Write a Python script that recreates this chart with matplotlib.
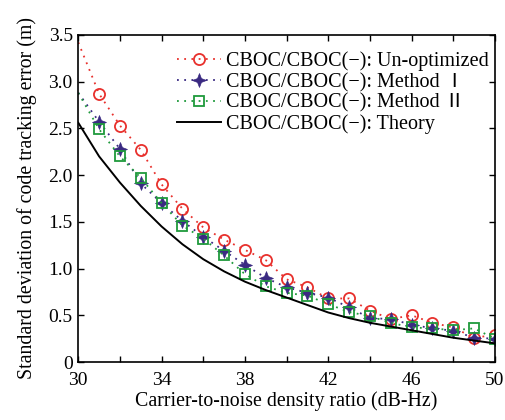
import matplotlib
matplotlib.use("Agg")
import matplotlib.pyplot as plt
from matplotlib.path import Path
import numpy as np

plt.rcParams['font.family'] = ['Liberation Serif', 'Noto Sans CJK SC', 'DejaVu Serif']
plt.rcParams['mathtext.fontset'] = 'stix'

# C/N0 grid (dB-Hz)
cn0 = [30, 31, 32, 33, 34, 35, 36, 37, 38, 39, 40,
       41, 42, 43, 44, 45, 46, 47, 48, 49, 50]

# Standard deviation of code tracking error (m)
unoptimized = [3.42, 2.87, 2.53, 2.27, 1.90, 1.64, 1.44, 1.31, 1.20, 1.09, 0.885,
               0.80, 0.68, 0.68, 0.55, 0.46, 0.50, 0.42, 0.37, 0.26, 0.29]
method1 = [2.88, 2.57, 2.28, 1.91, 1.70, 1.51, 1.34, 1.19, 1.04, 0.90, 0.80,
           0.74, 0.69, 0.585, 0.47, 0.46, 0.40, 0.36, 0.335, 0.26, 0.25]
method2 = [2.88, 2.49, 2.20, 1.97, 1.70, 1.46, 1.32, 1.14, 0.94, 0.81, 0.74,
           0.71, 0.62, 0.535, 0.49, 0.42, 0.37, 0.36, 0.34, 0.36, 0.25]
theory = [2.56, 2.20, 1.92, 1.67, 1.45, 1.26, 1.10, 0.97, 0.86, 0.77, 0.69,
          0.61, 0.53, 0.47, 0.42, 0.38, 0.34, 0.30, 0.26, 0.23, 0.20]

labels = ['CBOC/CBOC(\u2212): Un-optimized',
          'CBOC/CBOC(\u2212): Method \u2160',
          'CBOC/CBOC(\u2212): Method \u2161',
          'CBOC/CBOC(\u2212): Theory']

# four-pointed star marker
a, b = 1.0, 0.28
star = Path([(0, a), (b, b), (a, 0), (b, -b), (0, -a), (-b, -b), (-a, 0), (-b, b), (0, a)],
            [Path.MOVETO] + [Path.LINETO] * 7 + [Path.CLOSEPOLY])

red = '#e8302c'
purple = '#3a2a82'
green = '#1f9a3c'
dots = (0, (1, 3))

fig = plt.figure(figsize=(5.05, 4.2), dpi=100)
ax = fig.add_axes([0.155, 0.138, 0.825, 0.779])

ax.plot(cn0, unoptimized, color=red, linestyle=dots, linewidth=1.3,
        marker='o', markersize=8, markerfacecolor='none', markeredgewidth=1.3,
        markevery=slice(1, None), label=labels[0])
ax.plot(cn0, method1, color=purple, linestyle=dots, linewidth=1.3,
        marker=star, markersize=10, markerfacecolor=purple, markeredgewidth=0.5,
        markevery=slice(1, None), label=labels[1])
ax.plot(cn0, method2, color=green, linestyle=dots, linewidth=1.3,
        marker='s', markersize=7.5, markerfacecolor='none', markeredgewidth=1.3,
        markevery=slice(1, None), label=labels[2])
ax.plot(cn0, theory, color='black', linestyle='-', linewidth=1.4, label=labels[3])

ax.set_xlim(30, 50)
ax.set_ylim(0, 3.5)
ax.set_xticks(np.arange(30, 51, 2))
ax.set_xticklabels([str(v) if v % 4 == 2 else '' for v in range(30, 51, 2)])
ax.set_yticks(np.arange(0, 3.51, 0.5))
ax.set_yticklabels(['0', '0.5', '1.0', '1.5', '2.0', '2.5', '3.0', '3.5'])
ax.tick_params(direction='in', top=True, right=True, length=4, width=1,
               labelsize=14)
ax.tick_params(axis='x', pad=7)
ax.tick_params(axis='y', pad=4)
for s in ax.spines.values():
    s.set_linewidth(1.2)

ax.set_xlabel('Carrier-to-noise density ratio (dB-Hz)', fontsize=14.3, labelpad=2)
ax.set_ylabel('Standard deviation of code tracking error (m)', fontsize=14.3, labelpad=8)

ax.legend(loc='upper right', frameon=False, fontsize=14.5, handlelength=2.2,
          handletextpad=0.25, labelspacing=0.07, borderaxespad=0.3,
          borderpad=0.0, bbox_to_anchor=(1.0, 0.967))

fig.savefig('out.png', dpi=100)
